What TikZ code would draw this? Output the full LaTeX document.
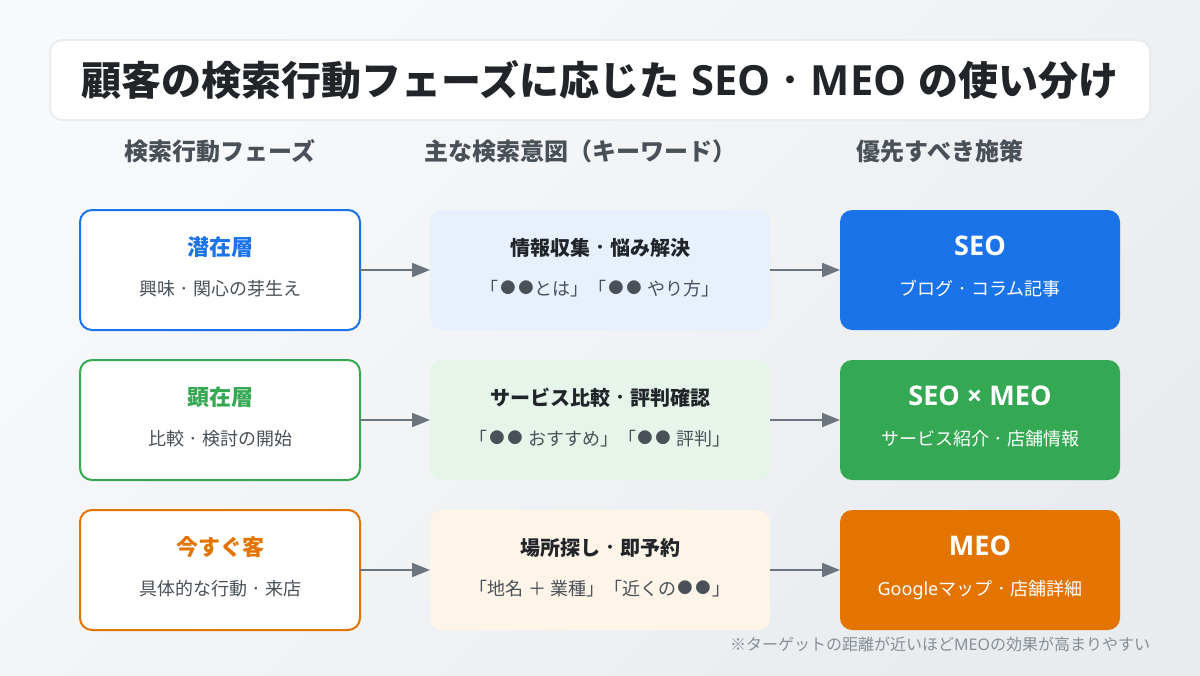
\documentclass[tikz,border=0pt]{standalone}
\usepackage{fontspec}
\usepackage{graphicx}
\setmainfont{Noto Sans CJK JP}
\newfontfamily\latreg{Noto Sans}
\newfontfamily\latbold[Scale=1.04]{Open Sans}
\usetikzlibrary{arrows.meta}
\definecolor{bglight}{HTML}{F8F9FA}
\definecolor{bgdark}{HTML}{E9ECEF}
\definecolor{inkdark}{HTML}{212529}
\definecolor{inkmid}{HTML}{495057}
\definecolor{inkgray}{HTML}{6C757D}
\definecolor{inknote}{HTML}{868E96}
\definecolor{bluemain}{HTML}{1A73E8}
\definecolor{greenmain}{HTML}{34A853}
\definecolor{orangemain}{HTML}{E37400}
\definecolor{bluepale}{HTML}{E8F0FE}
\definecolor{greenpale}{HTML}{E6F4EA}
\definecolor{orangepale}{HTML}{FEF4E8}
\newcommand{\nakadot}{\makebox[1em]{\raisebox{.11em}{\scalebox{.7}{・}}}}
\newcommand{\maru}{\makebox[1em]{\raisebox{.06em}{\scalebox{.85}{●}}}}
\tikzset{
	box/.style={minimum width=210pt,minimum height=90pt,rounded corners=9pt,outer sep=0pt,inner sep=0pt},
	phasebox/.style={box,draw=#1,line width=1.5pt,fill=white},
	intentbox/.style={box,minimum width=255pt,fill=#1},
	actionbox/.style={box,fill=#1},
	txt/.style={anchor=base,inner sep=0pt,outer sep=0pt},
	heading/.style={txt,text=inkmid,font=\bfseries\fontsize{18pt}{18pt}\selectfont},
	phasename/.style={txt,text=#1,font=\bfseries\fontsize{16.5pt}{18pt}\selectfont},
	intentname/.style={txt,text=inkdark,font=\bfseries\fontsize{15pt}{18pt}\selectfont},
	actionname/.style={txt,text=white,font=\latbold\bfseries\fontsize{19.5pt}{20pt}\selectfont},
	subline/.style={txt,text=inkmid,font=\fontsize{13.5pt}{16pt}\selectfont},
	actionline/.style={txt,text=white,font=\fontsize{13.5pt}{16pt}\selectfont},
	link/.style={draw=inkgray,line width=1.5pt,-{Triangle[length=13.5pt,width=10.5pt]}}
}
\begin{document}
\begin{tikzpicture}[x=0.75pt,y=-0.75pt]
	\useasboundingbox (0,0) rectangle (1200,675);
	\shade[shading=axis,top color=bglight,bottom color=bgdark,shading angle=45] (0,0) rectangle (1200,675);
	% title
	\node[box,minimum width=825pt,minimum height=60pt,fill=white,draw=bgdark,line width=1.5pt] (titlebox) at (600,80) {};
	\node[txt,text=inkdark,font=\bfseries\fontsize{30pt}{30pt}\selectfont] (title) at (600,95) {顧客の検索行動フェーズに応じた\hspace{.3em}{\latbold SEO}\nakadot{\latbold MEO}\hspace{.3em}の使い分け};
	% column heads
	\node[heading] (headphase) at (220,160) {検索行動フェーズ};
	\node[heading] (headintent) at (580,160) {主な検索意図（キーワード）};
	\node[heading] (headaction) at (940,160) {優先すべき施策};
	% boxes
	\node[phasebox=bluemain] (phaseone) at (220,270) {};
	\node[intentbox=bluepale] (intentone) at (600,270) {};
	\node[actionbox=bluemain] (actionone) at (980,270) {};
	\node[phasebox=greenmain] (phasetwo) at (220,420) {};
	\node[intentbox=greenpale] (intenttwo) at (600,420) {};
	\node[actionbox=greenmain] (actiontwo) at (980,420) {};
	\node[phasebox=orangemain] (phasethree) at (220,570) {};
	\node[intentbox=orangepale] (intentthree) at (600,570) {};
	\node[actionbox=orangemain] (actionthree) at (980,570) {};
	% first row
	\node[phasename=bluemain] (nameone) at (220,255) {潜在層};
	\node[subline] (subone) at (220,295) {興味\nakadot 関心の芽生え};
	\node[intentname] (intentnameone) at (600,255) {情報収集\nakadot 悩み解決};
	\node[subline] (keyone) at (600,295) {「\maru\maru とは」「\maru\maru{} やり方」};
	\node[actionname] (actionnameone) at (980,255) {SEO};
	\node[actionline] (actionsubone) at (980,295) {ブログ\nakadot コラム記事};
	% second row
	\node[phasename=greenmain] (nametwo) at (220,405) {顕在層};
	\node[subline] (subtwo) at (220,445) {比較\nakadot 検討の開始};
	\node[intentname] (intentnametwo) at (600,405) {サービス比較\nakadot 評判確認};
	\node[subline] (keytwo) at (600,445) {「\maru\maru{} おすすめ」「\maru\maru{} 評判」};
	\node[actionname] (actionnametwo) at (980,405) {SEO × MEO};
	\node[actionline] (actionsubtwo) at (980,445) {サービス紹介\nakadot 店舗情報};
	% third row
	\node[phasename=orangemain] (namethree) at (220,555) {今すぐ客};
	\node[subline] (subthree) at (220,595) {具体的な行動\nakadot 来店};
	\node[intentname] (intentnamethree) at (600,555) {場所探し\nakadot 即予約};
	\node[subline] (keythree) at (600,595) {「地名 ＋ 業種」「近くの\maru\maru」};
	\node[actionname] (actionnamethree) at (980,555) {MEO};
	\node[actionline] (actionsubthree) at (980,595) {{\latreg Google}マップ\nakadot 店舗詳細};
	% arrows
	\draw[link] (phaseone) -- (intentone);
	\draw[link] (intentone) -- (actionone);
	\draw[link] (phasetwo) -- (intenttwo);
	\draw[link] (intenttwo) -- (actiontwo);
	\draw[link] (phasethree) -- (intentthree);
	\draw[link] (intentthree) -- (actionthree);
	% note
	\node[txt,anchor=base east,text=inknote,font=\fontsize{12pt}{14pt}\selectfont] (note) at (1150,650) {※ターゲットの距離が近いほど{\latreg MEO}の効果が高まりやすい};
\end{tikzpicture}
\end{document}
